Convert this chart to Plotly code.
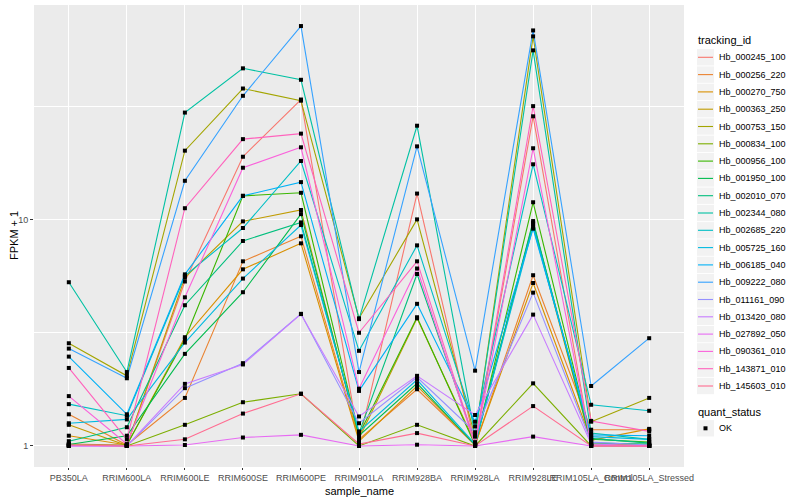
import plotly.graph_objects as go

samples = ["PB350LA", "RRIM600LA", "RRIM600LE", "RRIM600SE", "RRIM600PE", "RRIM901LA",
           "RRIM928BA", "RRIM928LA", "RRIM928LE", "RRIM105LA_Control", "RRIM105LA_Stressed"]

tracking_ids = ["Hb_000245_100", "Hb_000256_220", "Hb_000270_750", "Hb_000363_250", "Hb_000753_150",
                "Hb_000834_100", "Hb_000956_100", "Hb_001950_100", "Hb_002010_070", "Hb_002344_080",
                "Hb_002685_220", "Hb_005725_160", "Hb_006185_040", "Hb_009222_080", "Hb_011161_090",
                "Hb_013420_080", "Hb_027892_050", "Hb_090361_010", "Hb_143871_010", "Hb_145603_010"]

colors = ["#F8766D", "#EA8331", "#D89000", "#C09B00", "#A3A500", "#7CAE00", "#39B600", "#00BB4E",
          "#00BF7D", "#00C1A3", "#00BFC4", "#00BAE0", "#00B0F6", "#35A2FF", "#9590FF", "#C77CFF",
          "#E76BF3", "#FA62DB", "#FF62BC", "#FF6C91"]

# FPKM + 1 values, one list per tracking id, in the order of `samples`
Hb_000245_100 = [1.02, 1.01, 5.32, 18.9, 33.8, 1.04, 13.0, 1.02, 28.5, 1.0, 1.0]
Hb_000256_220 = [1.38, 1.01, 1.63, 6.53, 8.42, 1.07, 1.78, 1.01, 5.67, 1.18, 1.18]
Hb_000270_750 = [1.11, 1.01, 3.02, 6.02, 7.84, 1.05, 1.84, 1.01, 5.24, 1.06, 1.19]
Hb_000363_250 = [1.24, 1.005, 5.54, 9.80, 11.0, 1.08, 3.66, 1.03, 9.51, 1.02, 1.01]
Hb_000753_150 = [2.84, 2.04, 20.1, 37.8, 33.4, 3.66, 10.0, 1.10, 64.2, 1.28, 1.63]
Hb_000834_100 = [1.01, 1.0, 1.24, 1.56, 1.70, 1.0, 1.24, 1.0, 1.89, 1.0, 1.0]
Hb_000956_100 = [1.005, 1.01, 2.96, 12.7, 13.1, 1.12, 3.70, 1.01, 11.9, 1.07, 1.04]
Hb_001950_100 = [1.015, 1.11, 2.55, 4.77, 10.55, 1.11, 1.89, 1.01, 9.83, 1.03, 1.02]
Hb_002010_070 = [1.05, 1.21, 4.18, 8.03, 9.70, 1.14, 5.74, 1.04, 9.65, 1.08, 1.03]
Hb_002344_080 = [5.28, 2.12, 29.6, 46.4, 41.3, 3.63, 25.9, 1.11, 55.7, 1.14, 1.07]
Hb_002685_220 = [1.53, 1.36, 5.63, 9.16, 18.1, 2.63, 7.68, 1.22, 17.5, 1.52, 1.43]
Hb_005725_160 = [1.26, 1.31, 2.86, 5.48, 9.44, 1.16, 1.96, 1.02, 9.27, 1.10, 1.07]
Hb_006185_040 = [2.48, 1.38, 5.72, 12.7, 14.6, 1.75, 4.24, 1.28, 9.10, 1.12, 1.11]
Hb_009222_080 = [2.69, 1.99, 14.8, 35.1, 71.3, 2.12, 21.0, 2.15, 68.2, 1.84, 2.99]
Hb_011161_090 = [1.005, 1.0, 1.80, 2.32, 3.83, 1.26, 2.01, 1.15, 4.75, 1.04, 1.01]
Hb_013420_080 = [1.0, 1.0, 1.88, 2.29, 3.82, 1.35, 2.04, 1.37, 3.80, 1.02, 1.0]
Hb_027892_050 = [1.0, 1.0, 1.01, 1.09, 1.12, 1.0, 1.013, 1.0, 1.10, 1.0, 1.0]
Hb_090361_010 = [1.66, 1.02, 4.53, 16.9, 20.8, 1.79, 6.07, 1.01, 20.6, 1.01, 1.0]
Hb_143871_010 = [2.21, 1.07, 11.2, 22.6, 23.9, 3.16, 6.53, 1.03, 31.6, 1.29, 1.16]
Hb_145603_010 = [1.01, 1.0, 1.07, 1.39, 1.70, 1.02, 1.14, 1.0, 1.50, 1.0, 1.0]

series = [Hb_000245_100, Hb_000256_220, Hb_000270_750, Hb_000363_250, Hb_000753_150,
          Hb_000834_100, Hb_000956_100, Hb_001950_100, Hb_002010_070, Hb_002344_080,
          Hb_002685_220, Hb_005725_160, Hb_006185_040, Hb_009222_080, Hb_011161_090,
          Hb_013420_080, Hb_027892_050, Hb_090361_010, Hb_143871_010, Hb_145603_010]

quant_status = ["OK"]

W, H = 800, 500
PL, PR, PT, PB = 34, 684, 5, 467  # panel box in pixels
FONT = "Liberation Sans, Arial, sans-serif"


def px(xp):
    return (xp - PL) / (PR - PL)


def py(yp):
    return (PB - yp) / (PB - PT)


fig = go.Figure()
for name, col, vals in zip(tracking_ids, colors, series):
    fig.add_trace(go.Scatter(x=samples, y=vals, mode="lines", name=name,
                             line=dict(color=col, width=1.1), showlegend=False))

all_x, all_y = [], []
for vals in series:
    all_x += samples
    all_y += vals
fig.add_trace(go.Scatter(x=all_x, y=all_y, mode="markers", name=quant_status[0],
                         marker=dict(color="black", size=4, symbol="square"),
                         showlegend=False))

shapes = []
annotations = []

# legend: tracking_id
annotations.append(dict(x=px(696), y=py(40.5), xref="paper", yref="paper", text="tracking_id",
                        showarrow=False, xanchor="left", yanchor="middle",
                        font=dict(size=11, color="black", family=FONT)))
row0, step = 57.3, 17.3
for i, (name, col) in enumerate(zip(tracking_ids, colors)):
    yc = row0 + i * step
    shapes.append(dict(type="rect", xref="paper", yref="paper", x0=px(697), x1=px(714),
                       y0=py(yc - 8.2), y1=py(yc + 8.2), fillcolor="#F2F2F2", line=dict(width=0),
                       layer="above"))
    shapes.append(dict(type="line", xref="paper", yref="paper", x0=px(698), x1=px(713),
                       y0=py(yc), y1=py(yc), line=dict(color=col, width=1.1), layer="above"))
    annotations.append(dict(x=px(717), y=py(yc), xref="paper", yref="paper", text=name,
                            showarrow=False, xanchor="left", yanchor="middle",
                            font=dict(size=9, color="black", family=FONT)))

# legend: quant_status
annotations.append(dict(x=px(696), y=py(411.5), xref="paper", yref="paper", text="quant_status",
                        showarrow=False, xanchor="left", yanchor="middle",
                        font=dict(size=11, color="black", family=FONT)))
yc = 428.3
shapes.append(dict(type="rect", xref="paper", yref="paper", x0=px(697), x1=px(714),
                   y0=py(yc - 8.2), y1=py(yc + 8.2), fillcolor="#F2F2F2", line=dict(width=0),
                   layer="above"))
shapes.append(dict(type="rect", xref="paper", yref="paper", x0=px(703.5), x1=px(707.5),
                   y0=py(yc - 2), y1=py(yc + 2), fillcolor="black", line=dict(width=0),
                   layer="above"))
annotations.append(dict(x=px(717), y=py(yc), xref="paper", yref="paper", text=quant_status[0],
                        showarrow=False, xanchor="left", yanchor="middle",
                        font=dict(size=9, color="black", family=FONT)))

# axis titles
annotations.append(dict(x=px(359), y=py(491), xref="paper", yref="paper", text="sample_name",
                        showarrow=False, xanchor="center", yanchor="middle",
                        font=dict(size=11, color="black", family=FONT)))
annotations.append(dict(x=px(14), y=py(236), xref="paper", yref="paper", text="FPKM + 1",
                        showarrow=False, xanchor="center", yanchor="middle", textangle=-90,
                        font=dict(size=11, color="black", family=FONT)))

fig.update_layout(
    width=W, height=H,
    margin=dict(l=PL, r=W - PR, t=PT, b=H - PB, autoexpand=False),
    paper_bgcolor="white", plot_bgcolor="#EBEBEB",
    font=dict(family=FONT, size=9, color="#4D4D4D"),
    showlegend=False,
    shapes=shapes, annotations=annotations,
    xaxis=dict(type="category", categoryorder="array", categoryarray=samples,
               range=[-0.6, 10.6], showgrid=True, gridcolor="white", gridwidth=1.1,
               zeroline=False, showline=False, ticks="outside", ticklen=2, tickcolor="#333333",
               tickwidth=1, tickangle=0, tickfont=dict(size=9, color="#4D4D4D"), automargin=False),
    yaxis=dict(type="log", range=[-0.0927, 1.946], tickvals=[1, 10, 100], ticktext=["1", "10", "100"],
               showgrid=True, gridcolor="white", gridwidth=1.1, zeroline=False, showline=False,
               ticks="outside", ticklen=3, tickcolor="#333333", tickwidth=1,
               tickfont=dict(size=9, color="#4D4D4D"), automargin=False,
               minor=dict(tickvals=[10 ** 0.5, 10 ** 1.5], showgrid=True, gridcolor="white",
                          gridwidth=0.55, ticks="")),
)

fig.write_html("out.html", config={"displayModeBar": False},
               post_script="document.body.style.margin='0';")
